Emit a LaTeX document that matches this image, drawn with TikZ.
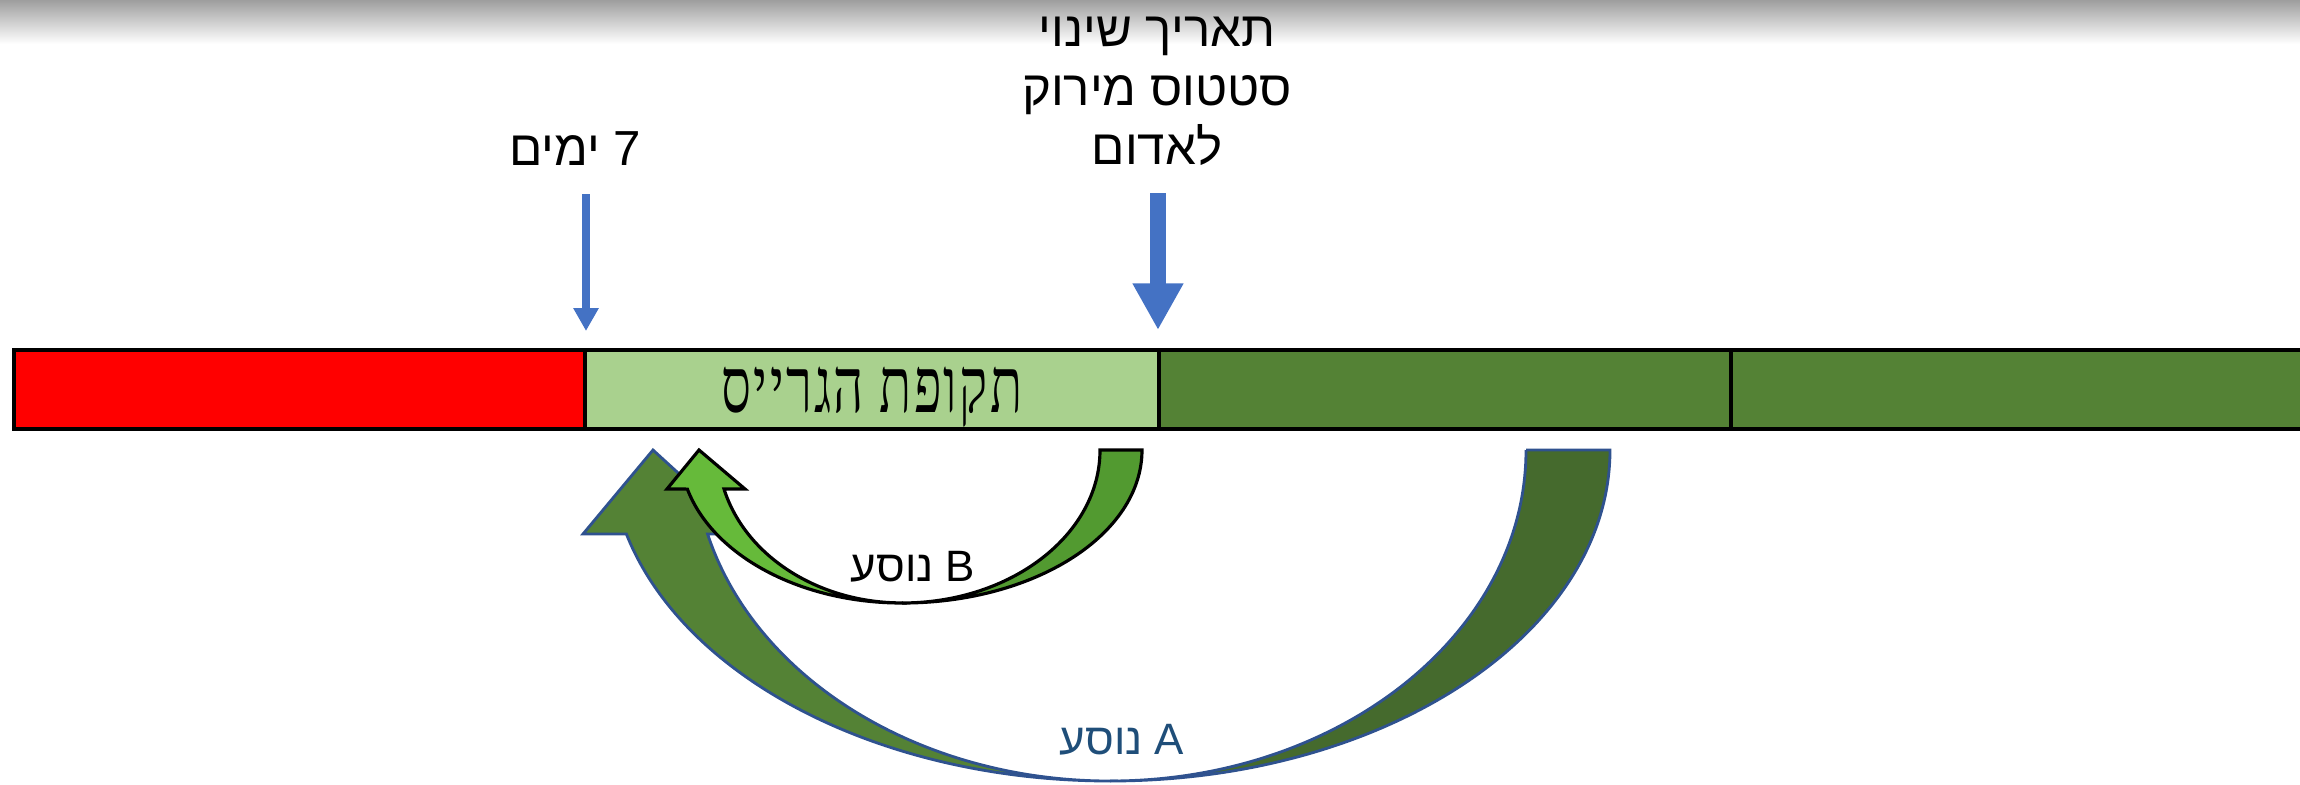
\documentclass[tikz,border=0pt]{standalone}
\usepackage{fontspec}
\usepackage{xcolor}
\usetikzlibrary{positioning, arrows.meta}
\TeXXeTstate=1
\newfontfamily\hebfont[Script=Hebrew]{Liberation Sans}
\newfontfamily\gracefont[Script=Hebrew, LetterSpace=3, FakeStretch=0.68]{Liberation Serif}
\definecolor{barred}{HTML}{FF0000}
\definecolor{gracegreen}{HTML}{A9D18E}
\definecolor{bargreen}{HTML}{548235}
\definecolor{markblue}{HTML}{4472C4}
\definecolor{aline}{HTML}{2F528F}
\definecolor{ahead}{HTML}{548235}
\definecolor{atail}{HTML}{456A2D}
\definecolor{bhead}{HTML}{66BA3A}
\definecolor{btail}{HTML}{529A30}
\definecolor{alabel}{HTML}{1F4E79}

\begin{document}
\begin{tikzpicture}[
        cell/.style={draw=black, line width=1.3pt, minimum height=0.79cm, inner sep=0pt, outer sep=0pt},
        heb/.style={font=\hebfont\fontsize{14}{16.8}\selectfont, inner sep=0pt},
        rider/.style={font=\hebfont\fontsize{12.5}{14}\selectfont, inner sep=0pt},
        thinmark/.style={draw=markblue, line width=2pt, -{Triangle[width=6.8pt, length=6.5pt]}},
        thickmark/.style={draw=markblue, line width=4.5pt, -{Triangle[width=13.6pt, length=13.3pt]}},
        curvea/.style={draw=aline, line width=0.8pt},
        curveb/.style={draw=black, line width=0.9pt}
    ]
        \useasboundingbox (0,0) rectangle (23,7.84);
        \shade[top color=black!38, bottom color=white] (0,7.40) rectangle (23,7.84);

        % the time bar
        \node[cell, fill=barred, minimum width=5.71cm] (red) at (2.995,3.945) {};
        \node[cell, fill=gracegreen, minimum width=5.74cm, text depth=0pt, right=0pt of red] (grace)
            {\gracefont\fontsize{22}{24}\selectfont\beginR תקופת הגרייס\endR};
        \node[cell, fill=bargreen, minimum width=5.72cm, right=0pt of grace] (green1) {};
        \node[cell, fill=bargreen, minimum width=5.79cm, right=0pt of green1] (green2) {};

        % markers above the bar
        \node[heb, anchor=base] (days) at (5.75,6.19) {\beginR 7 ימים\endR};
        \node[heb, align=center] (change) at (11.57,6.93)
            {\beginR תאריך שינוי\endR\\ \beginR סטטוס מירוק\endR\\ \beginR לאדום\endR};

        \coordinate (daystail) at (5.86,5.90);
        \coordinate (daystip) at (5.86,4.53);
        \coordinate (changetail) at (11.58,5.91);
        \coordinate (changetip) at (11.58,4.54);
        \draw[thinmark] (daystail) -- (daystip);
        \draw[thickmark] (changetail) -- (changetip);

        % rider A
        \filldraw[curvea, fill=atail] (15.26,3.34) -- (16.10,3.34)
            arc[start angle=0, end angle=-90, x radius=5.00, y radius=3.31]
            arc[start angle=-90, end angle=0, x radius=4.16, y radius=3.31] -- cycle;
        \filldraw[curvea, fill=ahead] (11.10,0.03)
            arc[start angle=270, end angle=194.7, x radius=5.00, y radius=3.31]
            -- (5.83,2.50) -- (6.53,3.34) -- (7.45,2.50) -- (7.076,2.50)
            arc[start angle=194.7, end angle=270, x radius=4.16, y radius=3.31] -- cycle;

        % rider B
        \filldraw[curveb, fill=btail] (11.00,3.34) -- (11.42,3.34)
            arc[start angle=0, end angle=-90, x radius=2.40, y radius=1.53]
            arc[start angle=-90, end angle=0, x radius=1.98, y radius=1.53] -- cycle;
        \filldraw[curveb, fill=bhead] (9.02,1.81)
            arc[start angle=270, end angle=194.8, x radius=2.22, y radius=1.53]
            -- (6.67,2.95) -- (6.99,3.34) -- (7.45,2.95) -- (7.24,2.95)
            arc[start angle=194.8, end angle=270, x radius=1.84, y radius=1.53] -- cycle;

        \node[rider] (riderB) at (9.13,2.17) {\beginR B נוסע\endR};
        \node[rider, text=alabel] (riderA) at (11.22,0.44) {\beginR A נוסע\endR};
    \end{tikzpicture}
\end{document}
